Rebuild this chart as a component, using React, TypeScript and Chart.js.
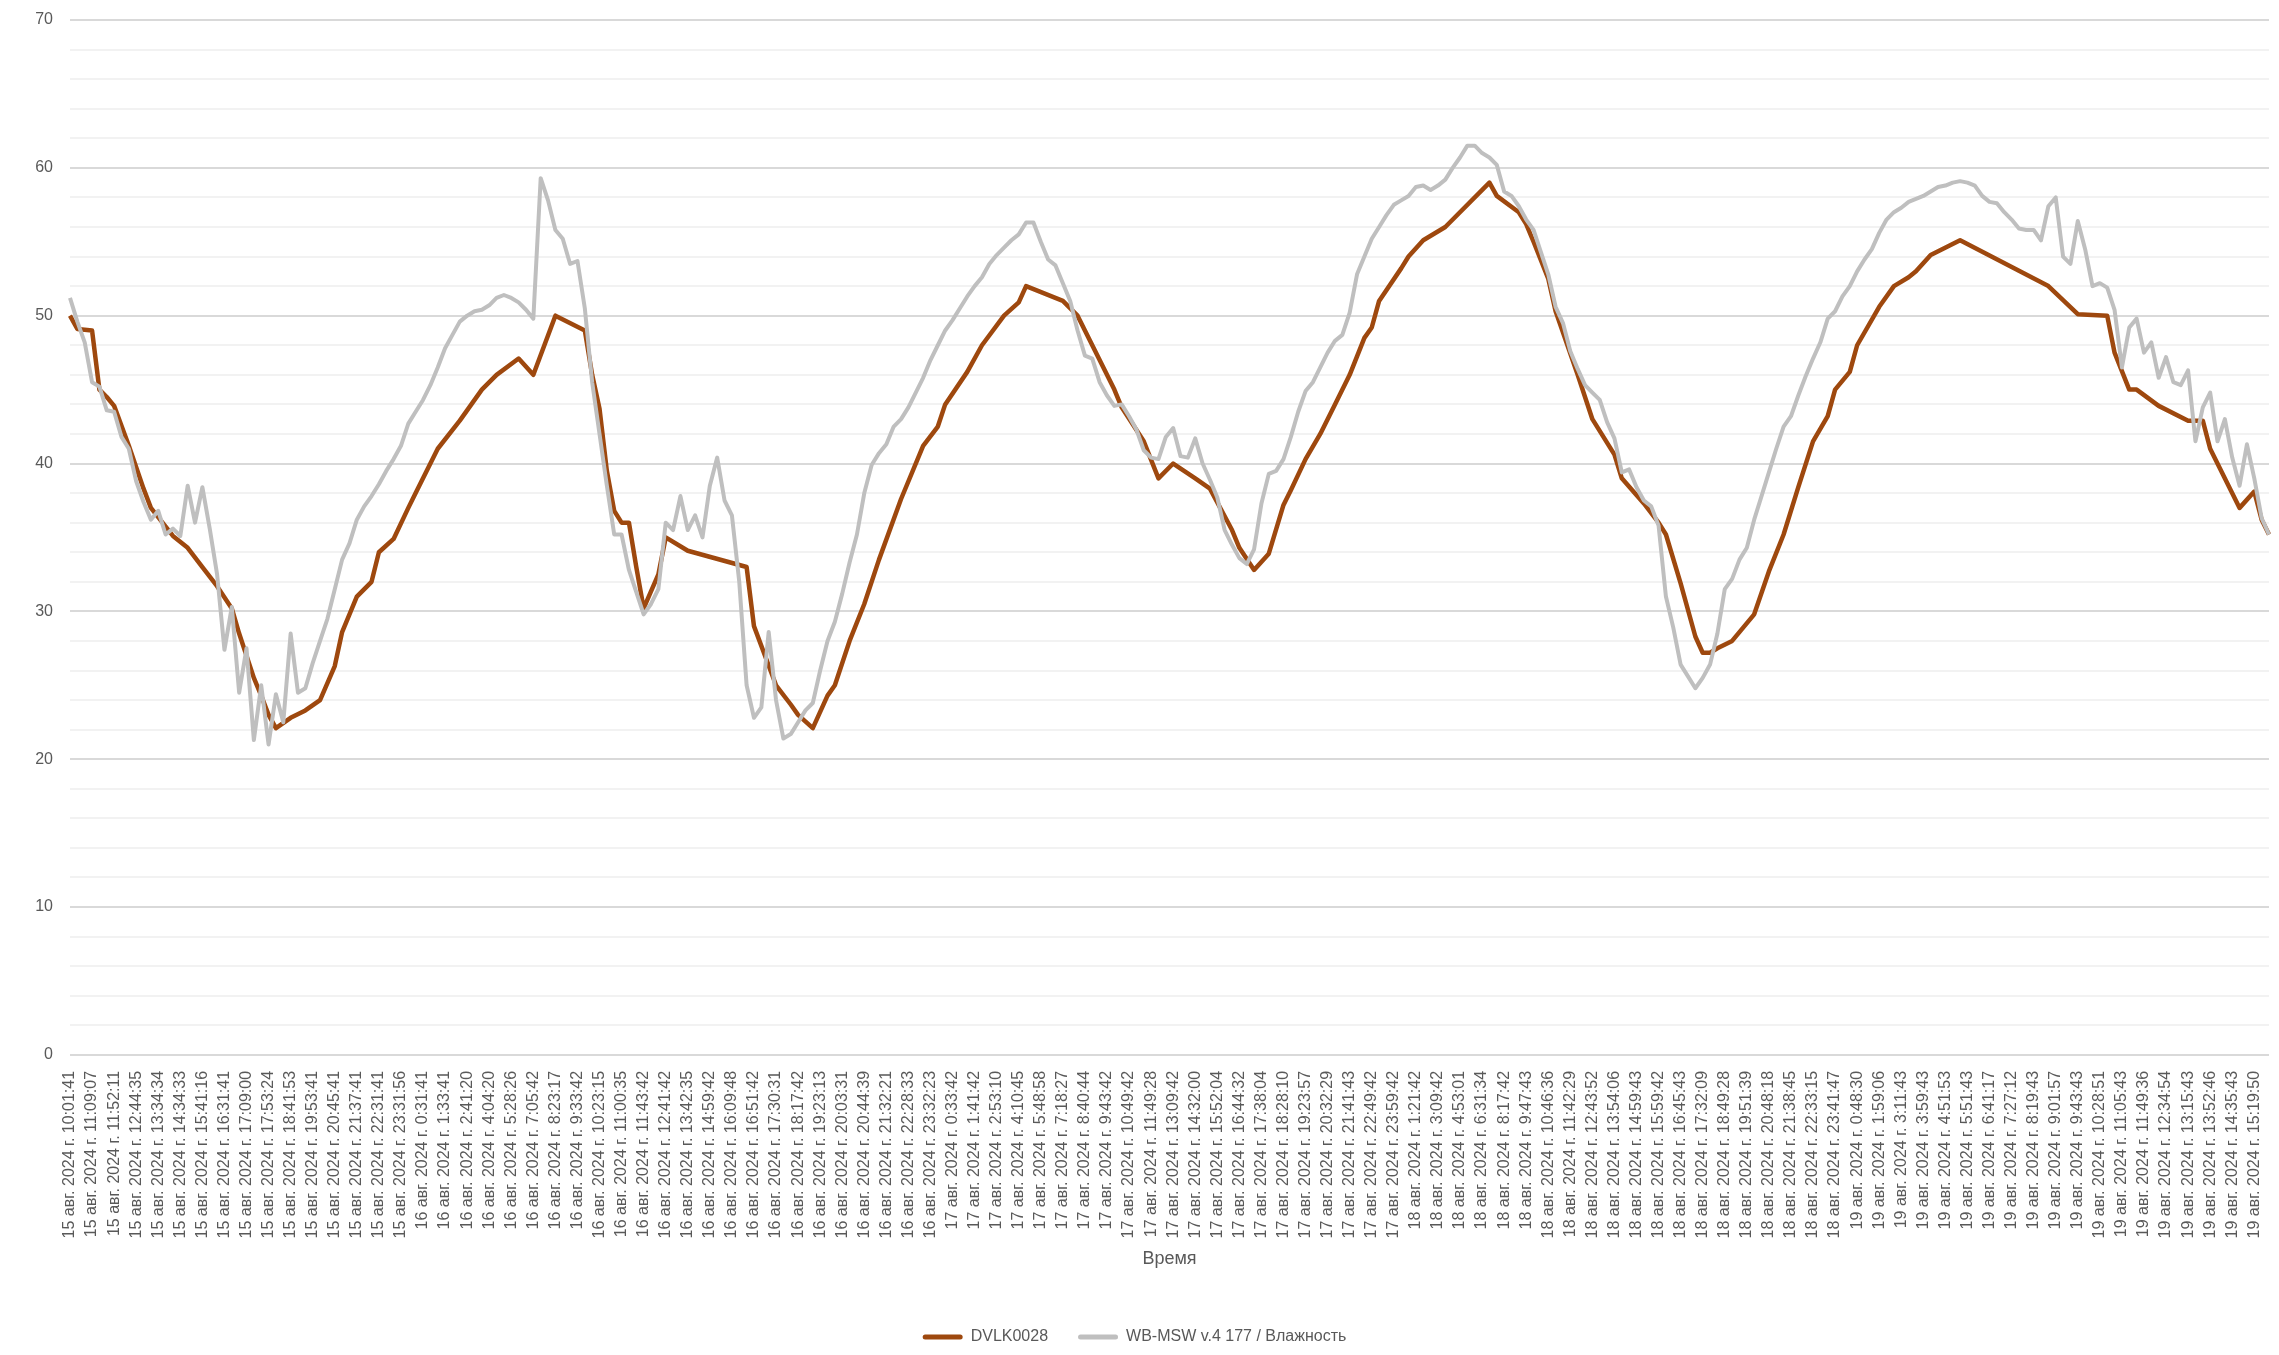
import React, { useEffect, useRef } from 'react';
import { Chart, registerables } from 'chart.js';

Chart.register(...registerables);

// подписи, которые Excel показывает на оси (каждый третий отсчёт)
const timeLabels = [
	'15 авг. 2024 г. 10:01:41', '15 авг. 2024 г. 11:09:07', '15 авг. 2024 г. 11:52:11', '15 авг. 2024 г. 12:44:35',
	'15 авг. 2024 г. 13:34:34', '15 авг. 2024 г. 14:34:33', '15 авг. 2024 г. 15:41:16', '15 авг. 2024 г. 16:31:41',
	'15 авг. 2024 г. 17:09:00', '15 авг. 2024 г. 17:53:24', '15 авг. 2024 г. 18:41:53', '15 авг. 2024 г. 19:53:41',
	'15 авг. 2024 г. 20:45:41', '15 авг. 2024 г. 21:37:41', '15 авг. 2024 г. 22:31:41', '15 авг. 2024 г. 23:31:56',
	'16 авг. 2024 г. 0:31:41', '16 авг. 2024 г. 1:33:41', '16 авг. 2024 г. 2:41:20', '16 авг. 2024 г. 4:04:20',
	'16 авг. 2024 г. 5:28:26', '16 авг. 2024 г. 7:05:42', '16 авг. 2024 г. 8:23:17', '16 авг. 2024 г. 9:33:42',
	'16 авг. 2024 г. 10:23:15', '16 авг. 2024 г. 11:00:35', '16 авг. 2024 г. 11:43:42', '16 авг. 2024 г. 12:41:42',
	'16 авг. 2024 г. 13:42:35', '16 авг. 2024 г. 14:59:42', '16 авг. 2024 г. 16:09:48', '16 авг. 2024 г. 16:51:42',
	'16 авг. 2024 г. 17:30:31', '16 авг. 2024 г. 18:17:42', '16 авг. 2024 г. 19:23:13', '16 авг. 2024 г. 20:03:31',
	'16 авг. 2024 г. 20:44:39', '16 авг. 2024 г. 21:32:21', '16 авг. 2024 г. 22:28:33', '16 авг. 2024 г. 23:32:23',
	'17 авг. 2024 г. 0:33:42', '17 авг. 2024 г. 1:41:42', '17 авг. 2024 г. 2:53:10', '17 авг. 2024 г. 4:10:45',
	'17 авг. 2024 г. 5:48:58', '17 авг. 2024 г. 7:18:27', '17 авг. 2024 г. 8:40:44', '17 авг. 2024 г. 9:43:42',
	'17 авг. 2024 г. 10:49:42', '17 авг. 2024 г. 11:49:28', '17 авг. 2024 г. 13:09:42', '17 авг. 2024 г. 14:32:00',
	'17 авг. 2024 г. 15:52:04', '17 авг. 2024 г. 16:44:32', '17 авг. 2024 г. 17:38:04', '17 авг. 2024 г. 18:28:10',
	'17 авг. 2024 г. 19:23:57', '17 авг. 2024 г. 20:32:29', '17 авг. 2024 г. 21:41:43', '17 авг. 2024 г. 22:49:42',
	'17 авг. 2024 г. 23:59:42', '18 авг. 2024 г. 1:21:42', '18 авг. 2024 г. 3:09:42', '18 авг. 2024 г. 4:53:01',
	'18 авг. 2024 г. 6:31:34', '18 авг. 2024 г. 8:17:42', '18 авг. 2024 г. 9:47:43', '18 авг. 2024 г. 10:46:36',
	'18 авг. 2024 г. 11:42:29', '18 авг. 2024 г. 12:43:52', '18 авг. 2024 г. 13:54:06', '18 авг. 2024 г. 14:59:43',
	'18 авг. 2024 г. 15:59:42', '18 авг. 2024 г. 16:45:43', '18 авг. 2024 г. 17:32:09', '18 авг. 2024 г. 18:49:28',
	'18 авг. 2024 г. 19:51:39', '18 авг. 2024 г. 20:48:18', '18 авг. 2024 г. 21:38:45', '18 авг. 2024 г. 22:33:15',
	'18 авг. 2024 г. 23:41:47', '19 авг. 2024 г. 0:48:30', '19 авг. 2024 г. 1:59:06', '19 авг. 2024 г. 3:11:43',
	'19 авг. 2024 г. 3:59:43', '19 авг. 2024 г. 4:51:53', '19 авг. 2024 г. 5:51:43', '19 авг. 2024 г. 6:41:17',
	'19 авг. 2024 г. 7:27:12', '19 авг. 2024 г. 8:19:43', '19 авг. 2024 г. 9:01:57', '19 авг. 2024 г. 9:43:43',
	'19 авг. 2024 г. 10:28:51', '19 авг. 2024 г. 11:05:43', '19 авг. 2024 г. 11:49:36', '19 авг. 2024 г. 12:34:54',
	'19 авг. 2024 г. 13:15:43', '19 авг. 2024 г. 13:52:46', '19 авг. 2024 г. 14:35:43', '19 авг. 2024 г. 15:19:50',
];

// WB-MSW, влажность, % — по отсчёту на каждую треть интервала подписи
const wbHumidity = [
	51.2, 49.6, 48.2, 45.5, 45.2, 43.6, 43.5, 41.8, 41, 38.8,
	37.4, 36.2, 36.8, 35.2, 35.6, 35.1, 38.5, 36, 38.4, 35.6,
	32.5, 27.4, 30.3, 24.5, 27.5, 21.3, 25, 21, 24.4, 22.5,
	28.5, 24.5, 24.8, 26.5, 28, 29.5, 31.5, 33.5, 34.6, 36.2,
	37.1, 37.8, 38.6, 39.5, 40.3, 41.2, 42.7, 43.5, 44.3, 45.3,
	46.5, 47.8, 48.7, 49.6, 50, 50.3, 50.4, 50.7, 51.2, 51.4,
	51.2, 50.9, 50.4, 49.8, 59.3, 57.8, 55.8, 55.2, 53.5, 53.7,
	50.5, 45.5, 42, 38.5, 35.2, 35.2, 32.8, 31.3, 29.8, 30.5,
	31.5, 36, 35.5, 37.8, 35.5, 36.5, 35, 38.5, 40.4, 37.5,
	36.5, 32, 25, 22.8, 23.5, 28.6, 24, 21.4, 21.7, 22.5,
	23.3, 23.8, 26, 28, 29.3, 31.2, 33.3, 35.2, 38, 39.9,
	40.7, 41.3, 42.5, 43, 43.8, 44.8, 45.8, 47, 48, 49,
	49.7, 50.5, 51.3, 52, 52.6, 53.5, 54.1, 54.6, 55.1, 55.5,
	56.3, 56.3, 55, 53.8, 53.4, 52.2, 51, 49, 47.3, 47.1,
	45.5, 44.6, 43.9, 44, 43.2, 42.3, 40.9, 40.4, 40.3, 41.8,
	42.4, 40.5, 40.4, 41.7, 40, 38.9, 37.7, 35.5, 34.5, 33.6,
	33.2, 34.2, 37.3, 39.3, 39.5, 40.3, 41.8, 43.5, 44.9, 45.5,
	46.5, 47.5, 48.3, 48.7, 50.2, 52.8, 54, 55.2, 56, 56.8,
	57.5, 57.8, 58.1, 58.7, 58.8, 58.5, 58.8, 59.2, 60, 60.7,
	61.5, 61.5, 61, 60.7, 60.2, 58.4, 58.1, 57.4, 56.5, 55.8,
	54.3, 52.8, 50.6, 49.5, 47.6, 46.4, 45.3, 44.8, 44.3, 42.8,
	41.7, 39.4, 39.6, 38.4, 37.5, 37.1, 35.8, 31, 28.9, 26.4,
	25.6, 24.8, 25.5, 26.4, 28.5, 31.5, 32.2, 33.5, 34.3, 36.2,
	37.8, 39.4, 41, 42.5, 43.2, 44.6, 45.9, 47.1, 48.2, 49.8,
	50.3, 51.3, 52, 53, 53.8, 54.5, 55.6, 56.5, 57, 57.3,
	57.7, 57.9, 58.1, 58.4, 58.7, 58.8, 59, 59.1, 59, 58.8,
	58.1, 57.7, 57.6, 57, 56.5, 55.9, 55.8, 55.8, 55.1, 57.4,
	58, 54, 53.5, 56.4, 54.5, 52, 52.2, 51.9, 50.4, 46.5,
	49.2, 49.8, 47.5, 48.2, 45.8, 47.2, 45.5, 45.3, 46.3, 41.5,
	43.8, 44.8, 41.5, 43, 40.4, 38.5, 41.3, 39, 36.3, 35.2,
];

// DVLK0028 пишет реже: [номер отсчёта, значение], между ними прямая
const dvlkKnots: [number, number][] = [
	[0, 50], [1, 49.1], [3, 49], [4, 45], [5, 44.5], [6, 43.9], [8, 41.2], [10, 38.3], [11, 37],
	[14, 35.1], [16, 34.3], [18, 33], [20, 31.7], [22, 30.2], [23, 28.5], [25, 25.5], [26, 24.3],
	[27, 23], [28, 22.1], [30, 22.8], [32, 23.3], [34, 24], [36, 26.3], [37, 28.6], [39, 31],
	[41, 32], [42, 34], [44, 34.9], [46, 37], [47, 38], [49, 40], [50, 41], [53, 42.9], [56, 45],
	[58, 46], [61, 47.1], [63, 46], [66, 50], [70, 49], [71, 46], [72, 43.7], [73, 39.5],
	[74, 36.8], [75, 36], [76, 36], [77, 33], [78, 30.2], [80, 32.5], [81, 35], [84, 34.1],
	[92, 33], [93, 29], [96, 25], [98, 23.7], [99, 23], [101, 22.1], [103, 24.3], [104, 25],
	[106, 28], [108, 30.5], [110, 33.5], [113, 37.6], [116, 41.2], [118, 42.5], [119, 44],
	[122, 46.2], [124, 48], [127, 50], [129, 50.9], [130, 52], [135, 51], [137, 50], [139, 48],
	[142, 45], [143, 43.8], [146, 41.5], [148, 39], [150, 40], [153, 39], [155, 38.3], [158, 35.5],
	[159, 34.3], [161, 32.8], [163, 33.9], [165, 37.2], [166, 38.2], [168, 40.3], [170, 42],
	[172, 44], [174, 46], [176, 48.5], [177, 49.2], [178, 51], [181, 53.2], [182, 54], [184, 55.1],
	[187, 56], [193, 59], [194, 58.1], [197, 57], [198, 56.2], [199, 55], [201, 52.5], [202, 50.3],
	[205, 46], [207, 43], [210, 40.6], [211, 39], [214, 37.3], [216, 36], [217, 35.2], [219, 31.9],
	[221, 28.3], [222, 27.2], [223, 27.2], [224, 27.5], [226, 28], [229, 29.8], [231, 32.7],
	[233, 35.2], [235, 38.4], [237, 41.5], [239, 43.2], [240, 45], [242, 46.2], [243, 48],
	[246, 50.6], [248, 52], [250, 52.6], [251, 53], [253, 54.1], [257, 55.1], [269, 52],
	[273, 50.1], [277, 50], [278, 47.5], [280, 45], [281, 45], [284, 43.9], [288, 42.9],
	[290, 42.9], [291, 41], [295, 37], [297, 38.1], [298, 36.2], [299, 35.2],
];

const SUB = 3;
const FONT = "'Liberation Sans', Arial, sans-serif";
const TEXT = '#595959';

const categories = timeLabels.flatMap(t => [t, ...Array(SUB - 1).fill('')]);
const dvlkData: (number | null)[] = categories.map(() => null);
dvlkKnots.forEach(([i, v]) => { dvlkData[i] = v; });

export default function App() {
	const canvas = useRef<HTMLCanvasElement>(null!);

	useEffect(() => {
		const chart = new Chart(canvas.current, {
			type: 'line',
			data: {
				labels: categories,
				datasets: [
					{
						label: 'DVLK0028',
						data: dvlkData,
						borderColor: '#9E480E',
						backgroundColor: '#9E480E',
						borderWidth: 4.5,
						pointRadius: 0,
						spanGaps: true,
						borderJoinStyle: 'round',
						order: 1,
					},
					{
						label: 'WB-MSW v.4 177 / Влажность',
						data: wbHumidity,
						borderColor: '#BFBFBF',
						backgroundColor: '#BFBFBF',
						borderWidth: 4,
						pointRadius: 0,
						borderJoinStyle: 'round',
						order: 0,
					},
				],
			},
			options: {
				animation: false,
				responsive: true,
				maintainAspectRatio: false,
				layout: { padding: { top: 20, right: 10, bottom: 0, left: 0 } },
				scales: {
					x: {
						type: 'category',
						grid: { display: false },
						border: { display: false },
						afterFit: (scale) => { scale.paddingLeft = 0; scale.paddingRight = 0; },
						ticks: {
							autoSkip: false,
							minRotation: 90,
							maxRotation: 90,
							padding: 8,
							color: TEXT,
							font: { family: FONT, size: 16 },
						},
						title: {
							display: true,
							text: 'Время',
							color: TEXT,
							font: { family: FONT, size: 18 },
							padding: { top: 2, bottom: 29 },
						},
					},
					y: {
						min: 0,
						max: 70,
						afterFit: (scale) => { scale.width = 70; scale.paddingTop = 0; scale.paddingBottom = 0; },
						border: { display: false },
						grid: {
							drawTicks: false,
							lineWidth: 2,
							color: (ctx) => (ctx.tick.value % 10 === 0 ? '#D9D9D9' : '#F2F2F2'),
						},
						ticks: {
							stepSize: 2,
							padding: 17,
							color: TEXT,
							font: { family: FONT, size: 16 },
							callback: (v) => (Number(v) % 10 === 0 ? String(v) : ''),
						},
					},
				},
				plugins: {
					tooltip: { enabled: false },
					legend: {
						position: 'bottom',
						labels: {
							boxWidth: 40,
							boxHeight: 5,
							padding: 30,
							color: TEXT,
							font: { family: FONT, size: 16 },
							useBorderRadius: true,
							borderRadius: 2.5,
							sort: (a, b) => a.datasetIndex! - b.datasetIndex!,
							generateLabels: (c) =>
								Chart.defaults.plugins.legend.labels.generateLabels(c).map(l => ({ ...l, lineWidth: 0 })),
						},
					},
				},
			},
		});

		return () => {
			chart.destroy();
		};
	}, []);

	return <div style={{ position: 'fixed', left: 0, top: 0, width: '100vw', height: '100vh', background: '#fff' }}>
		<canvas ref={canvas}></canvas>
	</div>;
}
